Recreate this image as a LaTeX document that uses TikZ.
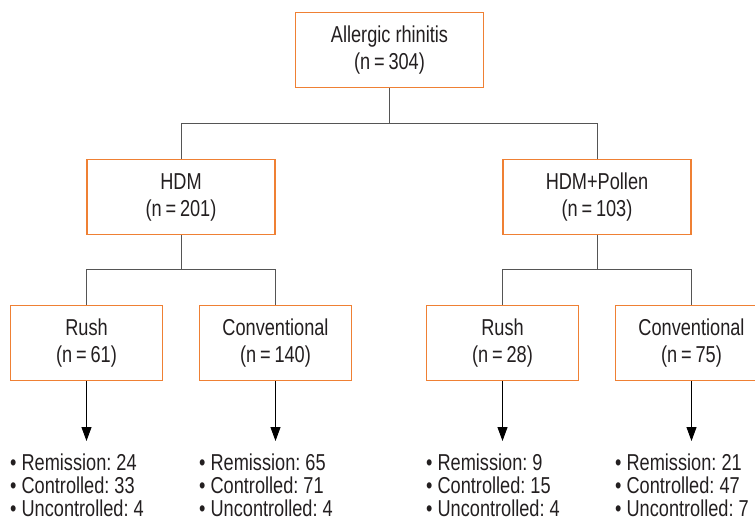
\documentclass[tikz,border=0pt]{standalone}
\usepackage{fontspec}
\setmainfont[FakeStretch=0.79]{Liberation Sans}
\usetikzlibrary{arrows.meta}
\pgfdeclarelayer{edgelayer}
\pgfdeclarelayer{nodelayer}
\pgfsetlayers{edgelayer,nodelayer,main}
\frenchspacing
\definecolor{boxorange}{RGB}{239,128,52}
\definecolor{linegray}{RGB}{85,85,85}
\definecolor{inkgray}{RGB}{35,31,32}
\tikzset{font=\fontsize{23}{27}\selectfont}
\tikzstyle{none}=[inner sep=0pt]
\tikzstyle{box}=[rectangle,draw=boxorange,line width=1.1pt,fill=white,align=center,minimum height=75pt,inner sep=0pt,text=inkgray]
\tikzstyle{wide}=[box,minimum width=188pt]
\tikzstyle{narrow}=[box,minimum width=152pt]
\tikzstyle{list}=[inner sep=0pt,align=left,anchor=north west,font=\fontsize{23}{23}\selectfont,text=inkgray]
\tikzstyle{link}=[draw=linegray,line width=1pt]
\tikzstyle{result}=[draw=black,line width=1pt,-{Triangle[width=10pt,length=14pt]}]

\begin{document}
\begin{tikzpicture}[x=1pt,y=-1pt]
	\useasboundingbox (0,0) rectangle (755,524);
	\begin{pgfonlayer}{nodelayer}
		\node [style=wide] (ar) at (389.5, 50) {Allergic rhinitis\\(n\,=\,304)};
		\node [style=wide] (hdm) at (181, 197) {HDM\\(n\,=\,201)};
		\node [style=wide] (hp) at (597, 197) {HDM+Pollen\\(n\,=\,103)};
		\node [style=narrow] (rush1) at (86.5, 343) {Rush\\(n\,=\,61)};
		\node [style=narrow] (conv1) at (275.5, 343) {Conventional\\(n\,=\,140)};
		\node [style=narrow] (rush2) at (502.5, 343) {Rush\\(n\,=\,28)};
		\node [style=narrow] (conv2) at (691.5, 343) {Conventional\\(n\,=\,75)};
		\node [style=list] (out1) at (10, 454) {\textbullet\ Remission: 24\\\textbullet\ Controlled: 33\\\textbullet\ Uncontrolled: 4};
		\node [style=list] (out2) at (199, 454) {\textbullet\ Remission: 65\\\textbullet\ Controlled: 71\\\textbullet\ Uncontrolled: 4};
		\node [style=list] (out3) at (426, 454) {\textbullet\ Remission: 9\\\textbullet\ Controlled: 15\\\textbullet\ Uncontrolled: 4};
		\node [style=list] (out4) at (615, 454) {\textbullet\ Remission: 21\\\textbullet\ Controlled: 47\\\textbullet\ Uncontrolled: 7};
		\coordinate (j0) at (389.5, 123.5);
		\coordinate (j1) at (181, 269.5);
		\coordinate (j2) at (597, 269.5);
		\coordinate (t1) at (86.5, 441);
		\coordinate (t2) at (275.5, 441);
		\coordinate (t3) at (502.5, 441);
		\coordinate (t4) at (691.5, 441);
	\end{pgfonlayer}
	\begin{pgfonlayer}{edgelayer}
		\draw [style=link] (ar.south) to (j0);
		\draw [style=link] (hdm.north) |- (j0) -| (hp.north);
		\draw [style=link] (hdm.south) to (j1);
		\draw [style=link] (rush1.north) |- (j1) -| (conv1.north);
		\draw [style=link] (hp.south) to (j2);
		\draw [style=link] (rush2.north) |- (j2) -| (conv2.north);
		\draw [style=result] (rush1.south) to (t1);
		\draw [style=result] (conv1.south) to (t2);
		\draw [style=result] (rush2.south) to (t3);
		\draw [style=result] (conv2.south) to (t4);
	\end{pgfonlayer}
\end{tikzpicture}
\end{document}
